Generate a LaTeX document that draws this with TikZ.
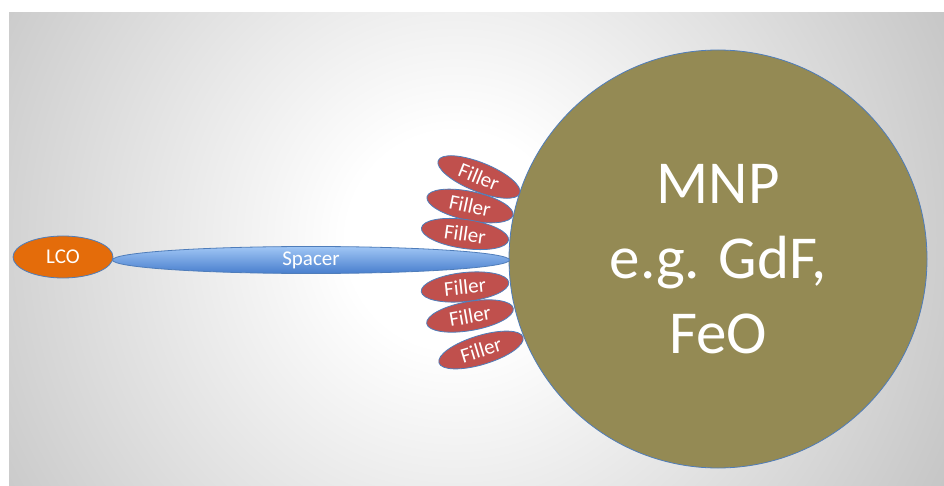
\documentclass[tikz,border=0pt]{standalone}
\usepackage{fontspec}
\setmainfont{Carlito}
\usetikzlibrary{shapes.geometric}
\definecolor{bggray}{RGB}{152,152,152}
\definecolor{mnpolive}{HTML}{948A54}
\definecolor{lcoorange}{HTML}{E46C0A}
\definecolor{fillred}{HTML}{C0504D}
\definecolor{edgeblue}{HTML}{4F7DBA}
\definecolor{spacertop}{RGB}{160,198,245}
\definecolor{spacerbot}{RGB}{72,126,205}
\pgfdeclareradialshading{bgshade}{\pgfpoint{0bp}{0bp}}{color(0bp)=(white); color(3bp)=(white); color(25bp)=(bggray); color(50bp)=(bggray)}
\tikzset{
  blob/.style={ellipse, draw=edgeblue, line width=0.8pt, inner sep=0pt, text=white},
  fillerbox/.style={blob, fill=fillred, minimum width=88pt, minimum height=29pt, font=\fontsize{21}{21}\selectfont},
}
\begin{document}
\begin{tikzpicture}[x=1pt,y=-1pt]
\useasboundingbox (0,0) rectangle (944,486);
\fill[white] (0,0) rectangle (944,486);
\begin{scope}
\clip (9,13) rectangle (944,486);
\shade[shading=bgshade] (455,240) circle (900);
\end{scope}
\node[blob, fill=mnpolive, minimum width=418pt, minimum height=418pt, font=\fontsize{61}{75}\selectfont, align=center] (mnp) at (718,259) {MNP\\e.g. GdF,\\FeO};
\node[blob, top color=spacertop, bottom color=spacerbot, minimum width=397pt, minimum height=27pt, font=\fontsize{21}{21}\selectfont] (spacer) at (311,260) {Spacer};
\node[blob, fill=lcoorange, minimum width=100pt, minimum height=42pt, font=\fontsize{21}{21}\selectfont] (lco) at (63,257) {LCO};
\node[fillerbox, rotate=-22] (f1) at (479,177) {Filler};
\node[fillerbox, rotate=-12] (f2) at (470,206) {Filler};
\node[fillerbox, rotate=-8] (f3) at (465,234) {Filler};
\node[fillerbox, rotate=6] (f4) at (465,287) {Filler};
\node[fillerbox, rotate=10] (f5) at (470,316) {Filler};
\node[fillerbox, rotate=17] (f6) at (481,350) {Filler};
\end{tikzpicture}
\end{document}
